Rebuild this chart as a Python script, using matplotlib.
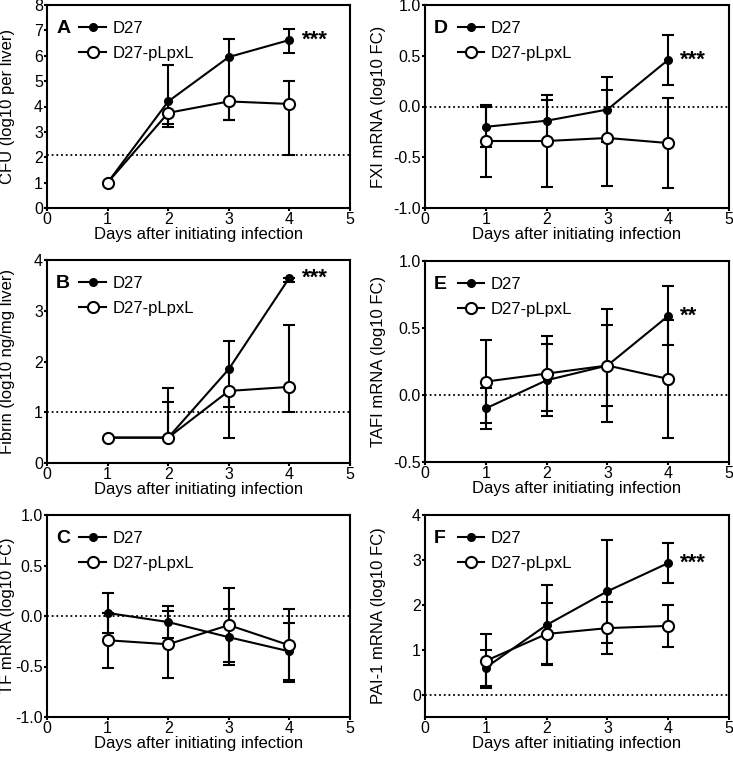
import matplotlib
matplotlib.use("Agg")
import matplotlib.pyplot as plt
from matplotlib.lines import Line2D
from matplotlib.ticker import FormatStrFormatter

plt.rcParams['font.family'] = ['Liberation Sans', 'DejaVu Sans']
plt.rcParams['font.size'] = 12

days = [1, 2, 3, 4]

# Panel A - CFU
cfu_d27 = [1.0, 4.2, 5.95, 6.62]
cfu_d27_lo = [0.0, 0.9, 2.5, 0.52]
cfu_d27_hi = [0.0, 1.45, 0.7, 0.43]
cfu_mut = [1.0, 3.75, 4.2, 4.1]
cfu_mut_lo = [0.0, 0.55, 0.75, 2.0]
cfu_mut_hi = [0.0, 0.0, 0.0, 0.9]

# Panel B - Fibrin
fib_d27 = [0.5, 0.5, 1.85, 3.65]
fib_d27_lo = [0.0, 0.0, 0.75, 0.08]
fib_d27_hi = [0.0, 0.7, 0.55, 0.0]
fib_mut = [0.5, 0.5, 1.42, 1.5]
fib_mut_lo = [0.0, 0.0, 0.92, 0.5]
fib_mut_hi = [0.0, 0.98, 0.0, 1.22]

# Panel C - TF mRNA
tf_d27 = [0.03, -0.06, -0.21, -0.35]
tf_d27_sd = [0.20, 0.16, 0.28, 0.28]
tf_mut = [-0.24, -0.28, -0.09, -0.29]
tf_mut_sd = [0.27, 0.33, 0.37, 0.36]

# Panel D - FXI mRNA
fxi_d27 = [-0.20, -0.14, -0.03, 0.46]
fxi_d27_sd = [0.20, 0.20, 0.32, 0.245]
fxi_mut = [-0.34, -0.34, -0.31, -0.36]
fxi_mut_sd = [0.35, 0.45, 0.47, 0.445]

# Panel E - TAFI mRNA
tafi_d27 = [-0.10, 0.11, 0.22, 0.59]
tafi_d27_sd = [0.15, 0.27, 0.30, 0.22]
tafi_mut = [0.10, 0.16, 0.22, 0.12]
tafi_mut_sd = [0.31, 0.28, 0.42, 0.44]

# Panel F - PAI-1 mRNA
pai_d27 = [0.60, 1.55, 2.30, 2.93]
pai_d27_sd = [0.40, 0.90, 1.15, 0.45]
pai_mut = [0.75, 1.35, 1.48, 1.53]
pai_mut_sd = [0.60, 0.68, 0.58, 0.47]

panels = [
    # letter, d27, d27 err, mut, mut err, ylabel, ylim, yticks, fmt, dotted, stars, pixel box
    ("A", cfu_d27, (cfu_d27_lo, cfu_d27_hi), cfu_mut, (cfu_mut_lo, cfu_mut_hi),
     "CFU (log10 per liver)", (0, 8), range(0, 9), "%d", 2.1, "***", (47, 5, 350, 208)),
    ("B", fib_d27, (fib_d27_lo, fib_d27_hi), fib_mut, (fib_mut_lo, fib_mut_hi),
     "Fibrin (log10 ng/mg liver)", (0, 4), range(0, 5), "%d", 1.0, "***", (47, 260, 350, 463)),
    ("C", tf_d27, tf_d27_sd, tf_mut, tf_mut_sd,
     "TF mRNA (log10 FC)", (-1, 1), [-1, -0.5, 0, 0.5, 1], "%.1f", 0.0, "", (47, 515, 350, 717)),
    ("D", fxi_d27, fxi_d27_sd, fxi_mut, fxi_mut_sd,
     "FXI mRNA (log10 FC)", (-1, 1), [-1, -0.5, 0, 0.5, 1], "%.1f", 0.0, "***", (425, 5, 729, 208)),
    ("E", tafi_d27, tafi_d27_sd, tafi_mut, tafi_mut_sd,
     "TAFI mRNA (log10 FC)", (-0.5, 1), [-0.5, 0, 0.5, 1], "%.1f", 0.0, "**", (425, 261, 729, 462)),
    ("F", pai_d27, pai_d27_sd, pai_mut, pai_mut_sd,
     "PAI-1 mRNA (log10 FC)", (-0.5, 4), range(0, 5), "%d", 0.0, "***", (425, 515, 729, 717)),
]

W, H = 733, 757
fig = plt.figure(figsize=(W / 100, H / 100), dpi=100)

for (letter, d27, d27e, mut, mute, ylab, ylim, yticks, fmt, dot, stars, box) in panels:
    x0, y0, x1, y1 = box
    ax = fig.add_axes([x0 / W, 1 - y1 / H, (x1 - x0) / W, (y1 - y0) / H])
    ax.axhline(dot, color='black', ls=(0, (1, 1.6)), lw=1.3, zorder=1)
    ax.errorbar(days, d27, yerr=d27e, color='black', lw=1.5, marker='o', ms=5.5,
                mfc='black', mec='black', capsize=4, capthick=1.5, elinewidth=1.5,
                zorder=3)
    ax.errorbar(days, mut, yerr=mute, color='black', lw=1.5, marker='o', ms=8,
                mfc='white', mec='black', mew=1.5, capsize=4, capthick=1.5,
                elinewidth=1.5, zorder=4)
    ax.set_xlim(0, 5)
    ax.set_ylim(*ylim)
    ax.set_xticks(range(0, 6))
    ax.set_yticks(list(yticks))
    ax.yaxis.set_major_formatter(FormatStrFormatter(fmt))
    for s in ax.spines.values():
        s.set_linewidth(1.5)
    ax.tick_params(direction='out', width=1.5, length=2.5, labelsize=11.5, pad=0.5)
    ax.set_xlabel("Days after initiating infection", fontsize=12, labelpad=0)
    ax.set_ylabel(ylab, fontsize=12)
    # right edge of the rotated y label at a fixed pixel column
    lab_x = 15 if x0 < 200 else 386
    ax.yaxis.set_label_coords((lab_x - x0) / (x1 - x0), 0.5)

    handles = [
        Line2D([], [], color='black', lw=1.5, marker='o', ms=5.5, mfc='black'),
        Line2D([], [], color='black', lw=1.5, marker='o', ms=8, mfc='white', mew=1.5),
    ]
    ax.legend(handles, ['D27', 'D27-pLpxL'], loc='upper left',
              bbox_to_anchor=(0.085, 0.955), frameon=False, fontsize=12,
              handlelength=1.6, handletextpad=0.4, labelspacing=0.62,
              borderaxespad=0.0)
    ax.text(0.03, 0.885, letter, transform=ax.transAxes, fontsize=14,
            fontweight='bold', va='center', ha='left')
    if stars:
        ax.text(4.2, d27[-1], stars, fontsize=16, fontweight='bold',
                va='center', ha='left')

fig.savefig("out.png", dpi=100)
